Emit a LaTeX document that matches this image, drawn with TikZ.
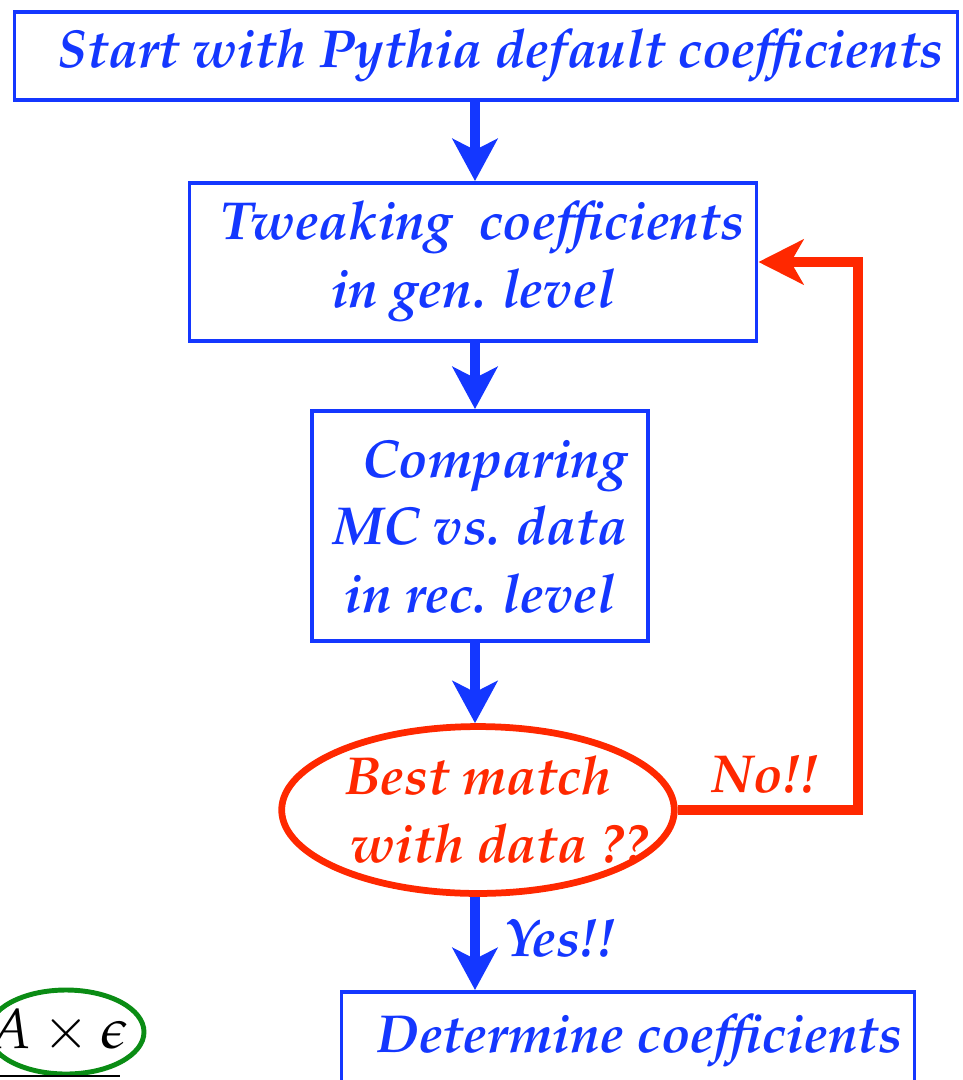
\documentclass[tikz,border=0pt]{standalone}
\usepackage[T1]{fontenc}
\usepackage{mathpazo}
\usepackage{xcolor}
\usetikzlibrary{shapes.geometric, arrows.meta, positioning, calc}
\definecolor{flowblue}{RGB}{20, 55, 255}
\definecolor{looprred}{RGB}{255, 40, 0}
\definecolor{effgreen}{RGB}{10, 140, 20}
\newcommand{\pxu}{0.025cm}

\begin{document}
\begin{tikzpicture}[x=0.025cm, y=-0.025cm,
    stepbox/.style={draw=flowblue, line width=2.8pt, text=flowblue, align=center,
        font=\fontsize{38}{48}\selectfont\bfseries\itshape, inner sep=0pt},
    flow/.style={-{Stealth[length=30pt, width=32pt, inset=8pt]}, flowblue, line width=7pt},
    loop/.style={-{Stealth[length=32pt, width=32pt, inset=9pt]}, looprred, line width=7pt},
    tag/.style={font=\fontsize{38}{48}\selectfont\bfseries\itshape}]
    \clip (0,0) rectangle (962,1080);
    \useasboundingbox (0,0) rectangle (962,1080);

    % Boxes
    \node[stepbox, minimum width=943*\pxu, minimum height=88*\pxu] (start) at (486,56)
        {\hspace{0.55em}Start with Pythia default coefficients};
    \node[stepbox, minimum width=567*\pxu, minimum height=158*\pxu] (tweak) at (473,262)
        {\hspace{0.35em}Tweaking \ coefficients\\in gen. level};
    \node[stepbox, minimum width=336*\pxu, minimum height=230*\pxu] (compare) at (480,526)
        {\hspace{0.55em}Comparing\\MC vs. data\\in rec. level};
    \node[ellipse, draw=looprred, line width=4.8pt, text=looprred, align=center,
        font=\fontsize{38}{48}\selectfont\bfseries\itshape,
        inner xsep=-31*\pxu, inner ysep=6*\pxu] (match) at (478,810)
        {Best match\\\hspace{0.8em}with data ??};
    \node[stepbox, minimum width=573*\pxu, minimum height=98*\pxu] (determine) at (628,1041)
        {\hspace{0.45em}Determine coefficients};

    % Acceptance times efficiency
    \node[ellipse, draw=effgreen, line width=3.5pt, inner sep=0pt,
        minimum width=156*\pxu, minimum height=84*\pxu,
        font=\fontsize{40}{48}\selectfont] (acceff) at (66,1032) {};
    \node[font=\fontsize{40}{48}\selectfont] (acctext) at (58,1031) {$A\times\epsilon$};
    \draw[line width=1.6pt] (acctext.south west |- 0,1076) -- (120,1076);

    % Arrows
    \draw[flow] (start.south -| 475,0) -- (tweak.north -| 475,0);
    \draw[flow] (tweak.south -| 475,0) -- (compare.north -| 475,0);
    \draw[flow] (compare.south -| 475,0) -- (match.north -| 475,0);
    \draw[flow] (match.south -| 475,0) -- (determine.north -| 475,0);

    % Feedback loop
    \coordinate (turn) at (858,262);
    \draw[loop] (match.east) -| (turn) -- (tweak.east |- turn);

    % Labels
    \node[tag, text=looprred] (no) at (765,774) {No!!};
    \node[tag, text=flowblue] (yes) at (560,938) {Yes!!};
\end{tikzpicture}
\end{document}
